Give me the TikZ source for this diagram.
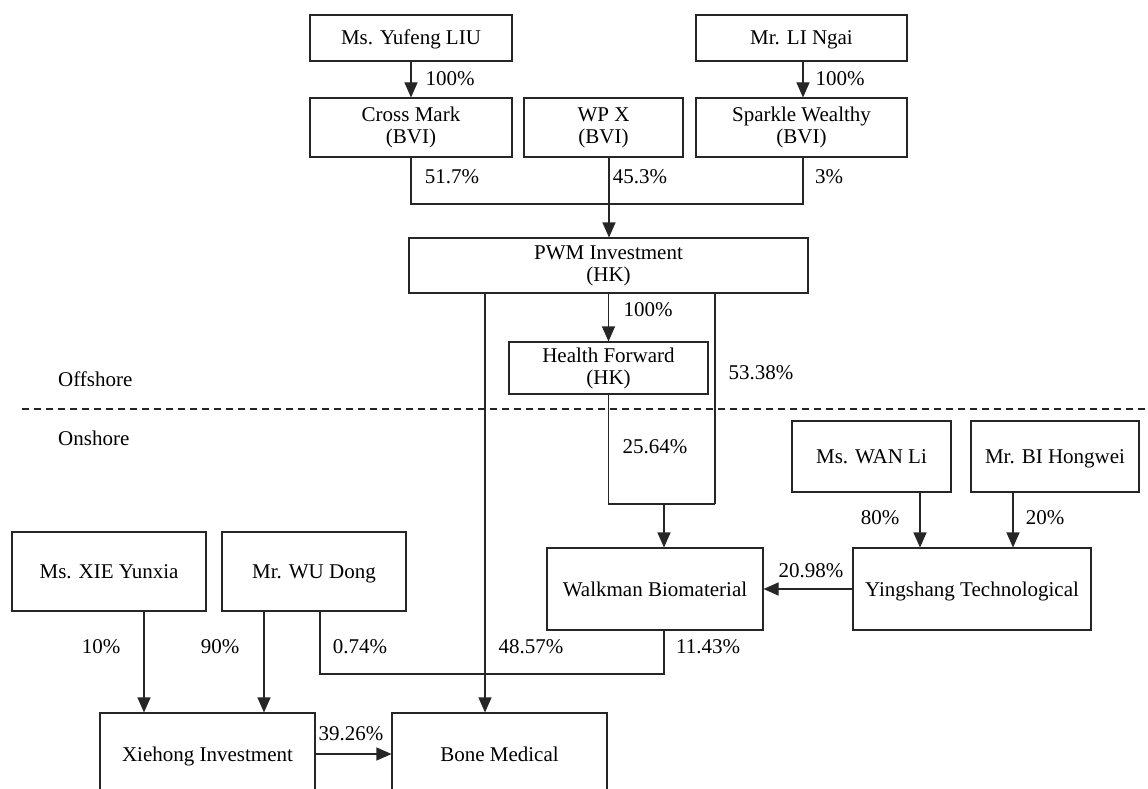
\documentclass[tikz,border=0pt]{standalone}
\usepackage{fontspec}
\setmainfont{Liberation Serif}
\usetikzlibrary{arrows.meta}
\begin{document}
\begin{tikzpicture}[x=1pt,y=-1pt,
  box/.style={draw=black!85, line width=1.1pt, inner sep=0pt, align=center, font=\fontsize{21}{22}\selectfont},
  sbox/.style={box, text height=15pt, text depth=1pt},
  pct/.style={inner sep=0pt, font=\fontsize{21}{22}\selectfont},
  conn/.style={draw=black!85, line width=1.1pt},
  arr/.style={conn, -{Triangle[length=15pt,width=13pt]}}]
\useasboundingbox (0,0) rectangle (1148,789);
\clip (0,0) rectangle (1148,789);
% boxes
\node[sbox, minimum width=202pt, minimum height=46pt] (liu) at (411,38) {Ms. Yufeng LIU};
\node[sbox, minimum width=211pt, minimum height=46pt] (li) at (801.5,38) {Mr. LI Ngai};
\node[box, minimum width=202pt, minimum height=59pt] (cross) at (411,127.5) {Cross Mark\\(BVI)};
\node[box, minimum width=159pt, minimum height=59pt] (wpx) at (603.5,127.5) {WP X\\(BVI)};
\node[box, minimum width=211pt, minimum height=59pt] (spark) at (801.5,127.5) {Sparkle Wealthy\\(BVI)};
\node[box, minimum width=399pt, minimum height=55pt] (pwm) at (608.5,265.5) {PWM Investment\\(HK)};
\node[box, minimum width=199pt, minimum height=52pt] (hf) at (608.5,368) {Health Forward\\(HK)};
\node[sbox, minimum width=159pt, minimum height=71pt] (wan) at (871.5,456.5) {Ms. WAN Li};
\node[sbox, minimum width=168pt, minimum height=71pt] (bi) at (1055,456.5) {Mr. BI Hongwei};
\node[sbox, minimum width=216pt, minimum height=82pt] (walk) at (655,589) {Walkman Biomaterial};
\node[sbox, minimum width=238pt, minimum height=82pt] (ying) at (972,589) {Yingshang Technological};
\node[sbox, minimum width=194pt, minimum height=79pt] (xie) at (109,571.5) {Ms. XIE Yunxia};
\node[sbox, minimum width=184pt, minimum height=79pt] (wu) at (314,571.5) {Mr. WU Dong};
\node[sbox, minimum width=215pt, minimum height=82pt] (xh) at (207.5,754) {Xiehong Investment};
\node[sbox, minimum width=215pt, minimum height=82pt] (bone) at (499.5,754) {Bone Medical};
% helper coordinates
\coordinate (jt) at (609,204);
\coordinate (bm) at (485,0);
\coordinate (rr) at (715,504);
\coordinate (wj) at (664,504);
\coordinate (j2) at (320,674);
\coordinate (xa) at (144,0);
\coordinate (wa) at (264,0);
\coordinate (wla) at (920,0);
\coordinate (bia) at (1013,0);
\coordinate (sp) at (803,0);
\coordinate (dl) at (22,409);
\coordinate (dr) at (1148,409);
% connectors
\draw[arr] (liu) -- (cross);
\draw[arr] (li.south -| sp) -- (spark.north -| sp);
\draw[conn] (cross.south) |- (jt) -| (spark.south -| sp);
\draw[arr] (wpx.south -| jt) -- (pwm.north -| jt);
\draw[arr] (pwm) -- (hf);
\draw[arr] (pwm.south -| bm) -- (bone.north -| bm);
\draw[conn] (pwm.south -| rr) -- (rr);
\draw[conn] (hf.south) |- (rr);
\draw[arr] (wj) -- (walk.north -| wj);
\draw[conn] (walk.south -| wj) |- (j2) -- (wu.south -| j2);
\draw[arr] (xie.south -| xa) -- (xh.north -| xa);
\draw[arr] (wu.south -| wa) -- (xh.north -| wa);
\draw[arr] (xh.east) -- (bone.west);
\draw[arr] (wan.south -| wla) -- (ying.north -| wla);
\draw[arr] (bi.south -| bia) -- (ying.north -| bia);
\draw[arr] (ying.west) -- (walk.east);
\draw[draw=black!85, line width=1.1pt, dash pattern=on 7pt off 5pt] (dl) -- (dr);
% labels
\node[pct] (l1) at (450,79) {100\%};
\node[pct] (l2) at (840,79) {100\%};
\node[pct] (l3) at (452,177) {51.7\%};
\node[pct] (l4) at (640,177) {45.3\%};
\node[pct] (l5) at (829,177) {3\%};
\node[pct] (l6) at (648,310) {100\%};
\node[pct] (l7) at (761,373) {53.38\%};
\node[pct] (l8) at (655,447) {25.64\%};
\node[pct] (l9) at (880,518) {80\%};
\node[pct] (l10) at (1045,518) {20\%};
\node[pct] (l11) at (811,571) {20.98\%};
\node[pct] (l12) at (101,647) {10\%};
\node[pct] (l13) at (220,647) {90\%};
\node[pct] (l14) at (360,647) {0.74\%};
\node[pct] (l15) at (531,647) {48.57\%};
\node[pct] (l16) at (708,647) {11.43\%};
\node[pct] (l17) at (351,734) {39.26\%};
\node[pct, anchor=west] (off) at (58,379) {Offshore};
\node[pct, anchor=west] (on) at (58,438) {Onshore};
\end{tikzpicture}
\end{document}
